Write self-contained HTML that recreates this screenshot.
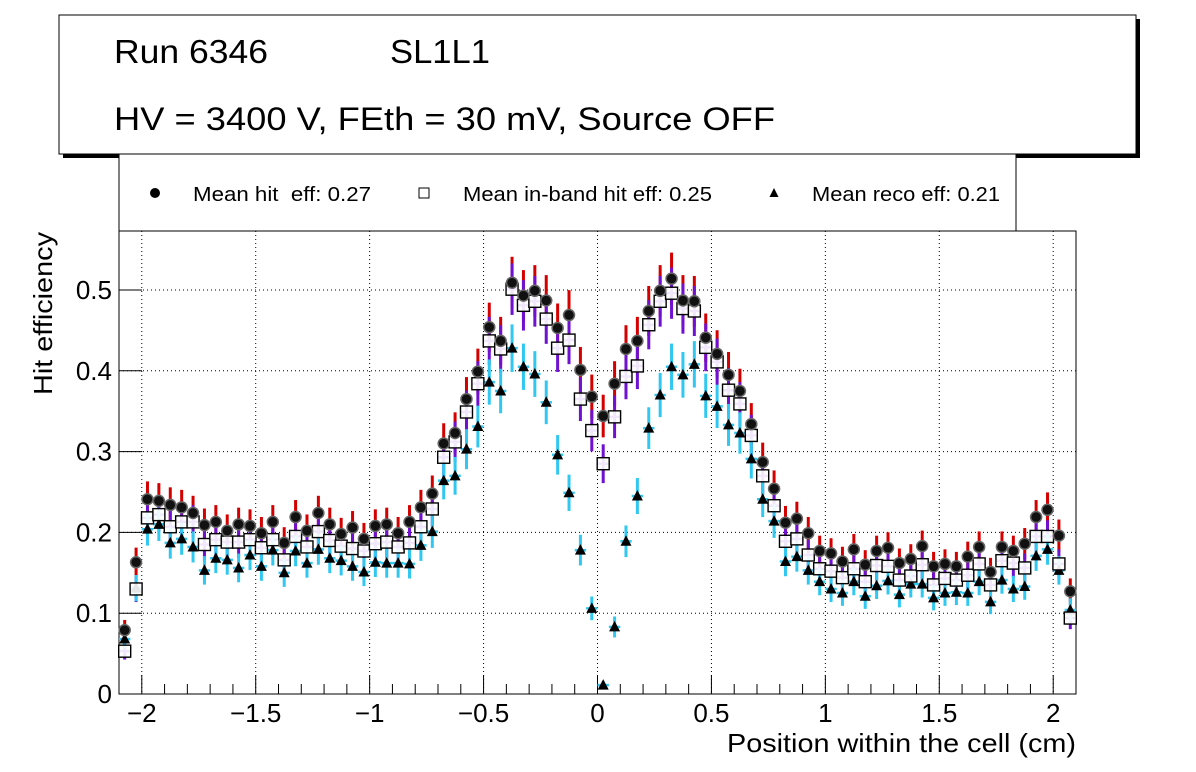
<!DOCTYPE html>
<html><head><meta charset="utf-8"><style>
body{margin:0;background:#fff;}
svg{display:block;font-family:"Liberation Sans",sans-serif;}
text{white-space:pre;}
</style></head><body>
<svg id="c" width="1196" height="772" viewBox="0 0 1196 772">
<rect x="0" y="0" width="1196" height="772" fill="#fff"/>
<g>
<rect x="63" y="19" width="1077" height="139" fill="#000"/>
<rect x="59" y="15" width="1077" height="139" fill="#fff" stroke="#000" stroke-width="1"/>
<text x="114" y="63" font-size="33" textLength="154" lengthAdjust="spacingAndGlyphs">Run 6346</text>
<text x="390" y="63" font-size="33" textLength="100" lengthAdjust="spacingAndGlyphs">SL1L1</text>
<text x="114" y="130" font-size="32" textLength="661" lengthAdjust="spacingAndGlyphs">HV = 3400 V, FEth = 30 mV, Source OFF</text>
</g>
<g>
<rect x="119" y="154" width="897" height="77" fill="#fff" stroke="#000" stroke-width="1"/>
<g><circle cx="155" cy="193" r="5" fill="#000"/><text x="193" y="201" font-size="20" textLength="178" lengthAdjust="spacingAndGlyphs" xml:space="preserve">Mean hit  eff: 0.27</text></g>
<g><rect x="419" y="188" width="10" height="10" fill="#fff" stroke="#000"/><text x="463" y="201" font-size="20" textLength="249" lengthAdjust="spacingAndGlyphs">Mean in-band hit eff: 0.25</text></g>
<g><polygon points="774,188 778.5,197 769.5,197" fill="#000"/><text x="812" y="201" font-size="20" textLength="188" lengthAdjust="spacingAndGlyphs">Mean reco eff: 0.21</text></g>
</g>
<g id="plot"></g>
</svg>
<script>
const hitEff=[0.079,0.163,0.241,0.239,0.234,0.231,0.224,0.209,0.213,0.202,0.210,0.208,0.199,0.213,0.187,0.219,0.202,0.224,0.210,0.198,0.206,0.192,0.208,0.210,0.199,0.213,0.231,0.248,0.310,0.323,0.365,0.399,0.454,0.437,0.509,0.493,0.499,0.487,0.453,0.469,0.401,0.368,0.344,0.384,0.427,0.437,0.474,0.499,0.514,0.487,0.486,0.441,0.421,0.395,0.375,0.334,0.287,0.254,0.212,0.217,0.199,0.177,0.174,0.164,0.179,0.160,0.177,0.181,0.162,0.167,0.183,0.158,0.161,0.158,0.170,0.182,0.151,0.182,0.177,0.186,0.219,0.228,0.196,0.127];
const inbandEff=[0.053,0.130,0.218,0.222,0.207,0.213,0.213,0.185,0.191,0.188,0.188,0.191,0.181,0.191,0.166,0.195,0.182,0.201,0.190,0.183,0.180,0.177,0.186,0.188,0.182,0.187,0.207,0.229,0.293,0.312,0.349,0.384,0.437,0.427,0.501,0.481,0.486,0.464,0.428,0.438,0.365,0.326,0.285,0.343,0.393,0.406,0.457,0.486,0.496,0.477,0.474,0.429,0.411,0.376,0.359,0.320,0.270,0.233,0.189,0.192,0.172,0.155,0.152,0.144,0.155,0.139,0.159,0.158,0.141,0.146,0.160,0.135,0.143,0.141,0.147,0.161,0.135,0.165,0.162,0.156,0.195,0.195,0.161,0.094];
const recoEff=[0.068,0.131,0.204,0.210,0.187,0.192,0.182,0.153,0.168,0.166,0.156,0.172,0.158,0.178,0.150,0.177,0.162,0.179,0.168,0.165,0.158,0.151,0.163,0.162,0.162,0.161,0.184,0.201,0.264,0.270,0.303,0.331,0.386,0.375,0.428,0.405,0.396,0.361,0.296,0.249,0.178,0.106,0.011,0.083,0.189,0.245,0.329,0.370,0.405,0.395,0.408,0.369,0.356,0.333,0.323,0.291,0.241,0.214,0.164,0.170,0.153,0.139,0.130,0.125,0.139,0.121,0.134,0.140,0.123,0.136,0.136,0.119,0.125,0.126,0.125,0.139,0.114,0.141,0.130,0.133,0.171,0.179,0.153,0.104];
const xTicks=[-2,-1.5,-1,-0.5,0,0.5,1,1.5,2];
const xTickLabels=["\u22122","\u22121.5","\u22121","\u22120.5","0","0.5","1","1.5","2"];
const yTicks=[0,0.1,0.2,0.3,0.4,0.5];
const yTickLabels=["0","0.1","0.2","0.3","0.4","0.5"];
const X0=119,X1=1076,Y0=694,Y1=231,XMIN=-2.1,XMAX=2.1,YMIN=0,YMAX=0.573;
const binW=0.05;
function sx(v){return X0+(v-XMIN)/(XMAX-XMIN)*(X1-X0);}
function sy(v){return Y0-(v-YMIN)/(YMAX-YMIN)*(Y0-Y1);}
const NS="http://www.w3.org/2000/svg";
const plot=document.getElementById('plot');
function mk(tag,attrs,parent){const e=document.createElementNS(NS,tag);for(const k in attrs)e.setAttribute(k,attrs[k]);(parent||plot).appendChild(e);return e;}
const frame=mk('rect',{x:X0,y:Y1,width:X1-X0,height:Y0-Y1,fill:'#fff',stroke:'#000','stroke-width':1});


xTicks.forEach(t=>{const g=mk('line',{x1:sx(t),x2:sx(t),y1:Y1,y2:Y0,stroke:'#000','stroke-dasharray':'1,3'});

});
yTicks.forEach(t=>{if(t===0)return;const g=mk('line',{x1:X0,x2:X1,y1:sy(t),y2:sy(t),stroke:'#000','stroke-dasharray':'1,3'});

});
for(let v=-2.1;v<=2.1001;v+=0.1){const r=Math.round(v*10)/10;const major=Math.abs(r*2-Math.round(r*2))<1e-6;
const l=mk('line',{x1:sx(r),x2:sx(r),y1:Y0,y2:Y0-(major?19:10),stroke:'#000'});

}
yTicks.forEach(t=>{const l=mk('line',{x1:X0,x2:X0+23,y1:sy(t),y2:sy(t),stroke:'#000'});

});
xTicks.forEach((t,i)=>{const tx=mk('text',{x:sx(t),y:722,'font-size':26,'text-anchor':'middle'});tx.textContent=xTickLabels[i];

});
yTicks.forEach((t,i)=>{const tx=mk('text',{x:112,y:sy(t)+9,'font-size':26,'text-anchor':'end'});tx.textContent=yTickLabels[i];

});
const xt=mk('text',{x:1076,y:752,'font-size':26,'text-anchor':'end',textLength:349,lengthAdjust:'spacingAndGlyphs'});xt.textContent='Position within the cell (cm)';


const yt=mk('text',{x:0,y:0,'font-size':26,'text-anchor':'end',textLength:163,lengthAdjust:'spacingAndGlyphs',transform:'translate(52,232) rotate(-90)'});yt.textContent='Hit efficiency';


function err(v){return 0.045*Math.sqrt(Math.max(v,0.01));}
function bars(arr,color,name){arr.forEach((v,i)=>{const xc=XMIN+binW*(i+0.5);const x=sx(xc);const e=err(v);
const g=mk('g',{});


mk('line',{x1:x,x2:x,y1:sy(v+e),y2:sy(v-e),stroke:color,'stroke-width':3},g);
mk('line',{x1:sx(xc-binW/2),x2:sx(xc+binW/2),y1:sy(v),y2:sy(v),stroke:color,'stroke-width':2.5},g);});}
bars(hitEff,'#d40000','hit');
bars(inbandEff,'#7010d0','inband');
bars(recoEff,'#30c8f0','reco');
recoEff.forEach((v,i)=>{const x=sx(XMIN+binW*(i+0.5)),y=sy(v);
const p=mk('polygon',{points:`${x},${y-6} ${x+5.5},${y+4.5} ${x-5.5},${y+4.5}`,fill:'#000'});

});
inbandEff.forEach((v,i)=>{const x=sx(XMIN+binW*(i+0.5)),y=sy(v);
const p=mk('rect',{x:x-6,y:y-6,width:12,height:12,fill:'#fff','fill-opacity':0.9,stroke:'#000','stroke-width':1.4});

});
hitEff.forEach((v,i)=>{const x=sx(XMIN+binW*(i+0.5)),y=sy(v);
const p=mk('circle',{cx:x,cy:y,r:5.5,fill:'#111',stroke:'#666','stroke-width':1.5});

});
</script>
</body></html>
